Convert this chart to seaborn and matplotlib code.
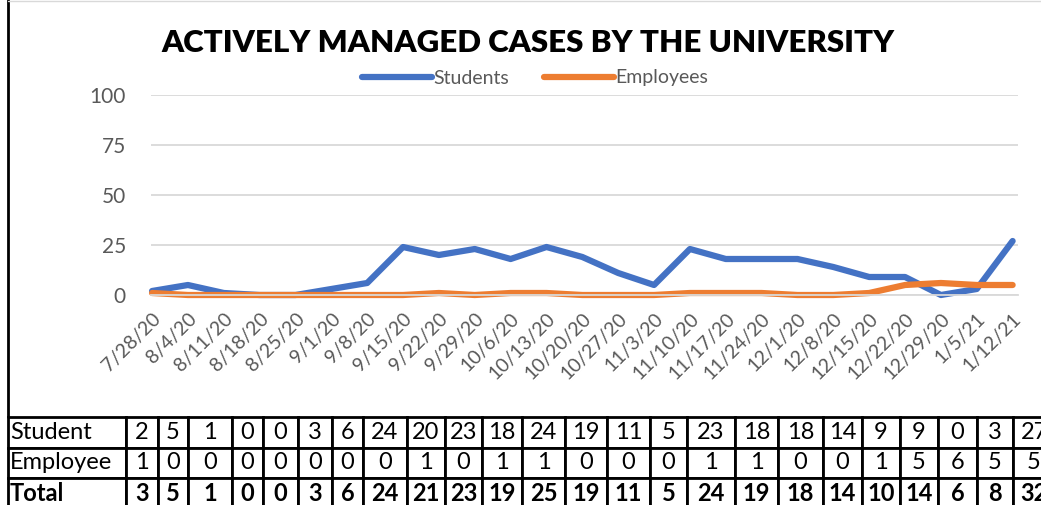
import matplotlib
matplotlib.use("Agg")
import matplotlib.pyplot as plt
from matplotlib.lines import Line2D
import seaborn as sns
import pandas as pd

# chart data (25 weekly points)
dates = ['7/28/20', '8/4/20', '8/11/20', '8/18/20', '8/25/20', '9/1/20', '9/8/20',
         '9/15/20', '9/22/20', '9/29/20', '10/6/20', '10/13/20', '10/20/20',
         '10/27/20', '11/3/20', '11/10/20', '11/17/20', '11/24/20', '12/1/20',
         '12/8/20', '12/15/20', '12/22/20', '12/29/20', '1/5/21', '1/12/21']
students = [2, 5, 1, 0, 0, 3, 6, 24, 20, 23, 18, 24, 19, 11, 5, 23, 18, 18, 18,
            14, 9, 9, 0, 3, 27]
employees = [1, 0, 0, 0, 0, 0, 0, 0, 1, 0, 1, 1, 0, 0, 0, 1, 1, 1, 0, 0, 1, 5,
             6, 5, 5]

# table under the chart (as shown, 24 columns)
tbl_student = [2, 5, 1, 0, 0, 3, 6, 24, 20, 23, 18, 24, 19, 11, 5, 23, 18, 18,
               14, 9, 9, 0, 3, 27]
tbl_employee = [1, 0, 0, 0, 0, 0, 0, 0, 1, 0, 1, 1, 0, 0, 0, 1, 1, 0, 0, 1, 5,
                6, 5, 5]
tbl_total = [3, 5, 1, 0, 0, 3, 6, 24, 21, 23, 19, 25, 19, 11, 5, 24, 19, 18, 14,
             10, 14, 6, 8, 32]
row_labels = ['Student', 'Employee', 'Total']

df = pd.DataFrame({
    'idx': list(range(len(dates))) * 2,
    'cases': students + employees,
    'group': ['Students'] * len(dates) + ['Employees'] * len(dates),
})

sns.set_style('white')
plt.rcParams['font.family'] = ['Lato', 'DejaVu Sans']

W, H = 1041, 505
fig = plt.figure(figsize=(W / 100, H / 100), dpi=100)

def px(x0, y0, x1, y1):
    return [x0 / W, 1 - y1 / H, (x1 - x0) / W, (y1 - y0) / H]

ax = fig.add_axes(px(151, 95, 1018, 295))
sns.lineplot(data=df, x='idx', y='cases', hue='group', ax=ax,
             palette={'Students': '#4472C4', 'Employees': '#ED7D31'},
             legend=False)
for ln in ax.lines:
    ln.set_linewidth(4.5)
    ln.set_solid_capstyle('round')
    ln.set_solid_joinstyle('round')
    ln.set_clip_on(False)

ax.set_xlim(-0.03, 24.15)
ax.set_ylim(0, 100)
ax.set_yticks([0, 25, 50, 75, 100])
ax.yaxis.grid(True, color='#d9d9d9', linewidth=1.3)
ax.set_axisbelow(True)
ax.set_xticks(range(len(dates)))
ax.set_xticklabels(dates, rotation=45, ha='right', rotation_mode='anchor')
ax.tick_params(axis='x', colors='#d9d9d9', length=7, width=1.3, direction='out',
               labelcolor='#595959', labelsize=14, pad=4)
ax.tick_params(axis='y', length=0, labelcolor='#595959', labelsize=15, pad=18)
for s in ['top', 'right', 'left']:
    ax.spines[s].set_visible(False)
ax.spines['bottom'].set_color('#d9d9d9')
ax.spines['bottom'].set_linewidth(1.3)
ax.set_xlabel('')
ax.set_ylabel('')

fig.text(528 / W, 1 - 43 / H, 'ACTIVELY MANAGED CASES BY THE UNIVERSITY',
         ha='center', va='center', fontsize=22.5, fontweight='heavy', color='black')

handles = [Line2D([], [], color='#4472C4', linewidth=4.5, solid_capstyle='round'),
           Line2D([], [], color='#ED7D31', linewidth=4.5, solid_capstyle='round')]
fig.legend(handles, ['Students', 'Employees'], loc='center', ncol=2,
           bbox_to_anchor=(535 / W, 1 - 78 / H), frameon=False, fontsize=14,
           labelcolor='#595959', handlelength=3.6, handletextpad=0.05,
           columnspacing=1.8)

# table
bounds = [8, 126, 158, 188, 232, 263, 298, 332, 363, 407, 445, 482, 522, 565,
          607, 650, 687, 735, 778, 823, 862, 900, 938, 977, 1013, 1055]
widths = [b - a for a, b in zip(bounds[:-1], bounds[1:])]
total_w = bounds[-1] - bounds[0]
tax = fig.add_axes(px(bounds[0], 417, bounds[-1], 417 + 3 * 30.5))
tax.axis('off')
cells = [[lab] + [str(v) for v in vals]
         for lab, vals in zip(row_labels, [tbl_student, tbl_employee, tbl_total])]
table = tax.table(cellText=cells, colWidths=[w / total_w for w in widths],
                  bbox=[0, 0, 1, 1], cellLoc='center')
table.auto_set_font_size(False)
for (r, c), cell in table.get_celld().items():
    cell.set_edgecolor('black')
    cell.set_linewidth(2)
    cell.set_text_props(fontsize=17, color='black')
    if c == 0:
        cell.get_text().set_ha('left')
        cell.PAD = 0.015
    if r == 2:
        cell.set_text_props(fontweight='bold')
table.set_clip_on(False)

# outer frame of the chart area
fig.add_artist(Line2D([8 / W, 8 / W], [1 - 417 / H, 1], color='black', linewidth=2))
fig.add_artist(Line2D([8 / W, 1], [1 - 1 / H, 1 - 1 / H], color='#d9d9d9', linewidth=1))

fig.savefig('out.png', dpi=100)
